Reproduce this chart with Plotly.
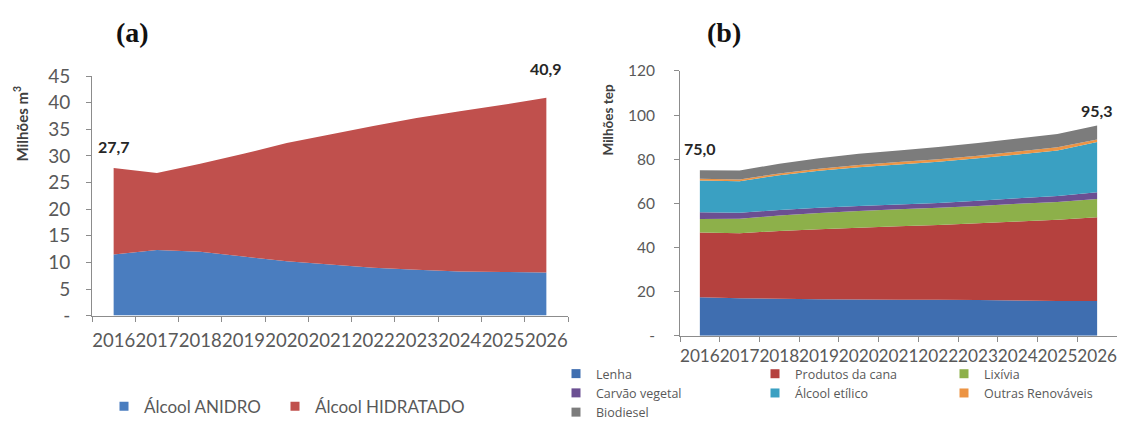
import plotly.graph_objects as go

# Reference frame is 1125x421. The html body keeps its default 8px margin and the
# captured page is about 435px tall, which is then fitted to 421px, so vertical
# positions are given in reference pixels and stretched by S before placement.
REF_W, REF_H, OFF = 1125, 421, 8
PAGE_H = 435
S = PAGE_H / REF_H
W, H = REF_W - 2 * OFF, PAGE_H - 2 * OFF

years = ['2016', '2017', '2018', '2019', '2020', '2021', '2022', '2023', '2024', '2025', '2026']

# (a) Etanol - Milhões m3
anidro = [11.5, 12.3, 12.0, 11.1, 10.2, 9.6, 9.0, 8.6, 8.3, 8.2, 8.1]
hidratado = [16.2, 14.5, 16.5, 19.3, 22.2, 24.4, 26.6, 28.5, 30.1, 31.4, 32.8]
a_labels = ['27,7', '40,9']
a_yticks = [0, 5, 10, 15, 20, 25, 30, 35, 40, 45]
a_yticktext = ['-', '5', '10', '15', '20', '25', '30', '35', '40', '45']

# (b) Renováveis - Milhões tep
lenha = [17.5, 17.0, 16.8, 16.6, 16.5, 16.4, 16.3, 16.2, 16.0, 15.8, 15.8]
cana = [29.3, 29.5, 30.7, 31.7, 32.5, 33.2, 33.9, 34.8, 35.8, 36.8, 37.9]
lixivia = [6.1, 6.5, 7.0, 7.4, 7.6, 7.7, 7.8, 7.8, 8.0, 8.0, 8.3]
carvao = [3.1, 2.8, 2.5, 2.3, 2.2, 2.2, 2.2, 2.4, 2.5, 2.8, 3.0]
alcool = [14.4, 14.2, 15.8, 16.8, 17.6, 18.1, 18.7, 19.2, 19.9, 20.6, 22.8]
outras = [0.8, 0.8, 0.8, 0.9, 1.0, 1.1, 1.1, 1.2, 1.3, 1.4, 1.2]
biodiesel = [3.8, 4.1, 4.4, 4.8, 5.1, 5.3, 5.6, 5.8, 5.9, 6.0, 6.3]
b_labels = ['75,0', '95,3']
b_yticks = [0, 20, 40, 60, 80, 100, 120]
b_yticktext = ['-', '20', '40', '60', '80', '100', '120']

a_series = [
    ('Álcool ANIDRO', anidro, '#4a7dbf', 'legend'),
    ('Álcool HIDRATADO', hidratado, '#c0504d', 'legend5'),
]
b_series = [
    ('Lenha', lenha, '#3f6eb0', 'legend2'),
    ('Produtos da cana', cana, '#b5413e', 'legend3'),
    ('Lixívia', lixivia, '#8db04a', 'legend4'),
    ('Carvão vegetal', carvao, '#6b4f92', 'legend2'),
    ('Álcool etílico', alcool, '#3aa0c2', 'legend3'),
    ('Outras Renováveis', outras, '#ec9444', 'legend4'),
    ('Biodiesel', biodiesel, '#7c7c7c', 'legend2'),
]


def px_x(p):
    return (p - OFF) / W


def px_y(p):
    return 1 - (p * S - OFF) / H


fig = go.Figure()

for name, vals, col, lg in a_series:
    fig.add_trace(go.Scatter(
        x=years, y=vals, name=name, stackgroup='a', mode='none',
        fillcolor=col, line=dict(width=0), showlegend=False,
        xaxis='x', yaxis='y', hoverinfo='x+y+name'))
for name, vals, col, lg in a_series:
    fig.add_trace(go.Scatter(
        x=[None], y=[None], name=name, mode='markers',
        marker=dict(symbol='square', size=9, color=col),
        xaxis='x', yaxis='y', legend=lg, showlegend=True))

for name, vals, col, lg in b_series:
    fig.add_trace(go.Scatter(
        x=years, y=vals, name=name, stackgroup='b', mode='none',
        fillcolor=col, line=dict(width=0), showlegend=False,
        xaxis='x2', yaxis='y2', hoverinfo='x+y+name'))
for name, vals, col, lg in b_series:
    fig.add_trace(go.Scatter(
        x=[None], y=[None], name=name, mode='markers',
        marker=dict(symbol='square', size=9, color=col),
        xaxis='x2', yaxis='y2', legend=lg, showlegend=True))

a_tot = [sum(v) for v in zip(anidro, hidratado)]
b_tot = [sum(v) for v in zip(lenha, cana, lixivia, carvao, alcool, outras, biodiesel)]

axis_col = '#8c8c8c'
tick_col = '#595959'
FONT = 'Lato, Open Sans, sans-serif'
LFONT = 'Open Sans, Lato, sans-serif'

common_x = dict(type='category', range=[-0.5, 10.5], tickmode='array', tickvals=years,
                ticktext=years, tickson='boundaries', ticks='outside', ticklen=5,
                tickcolor=axis_col, showline=True, linecolor=axis_col, linewidth=1,
                showgrid=False, zeroline=False, tickangle=0, automargin=False,
                fixedrange=True)
common_y = dict(ticks='outside', ticklen=5, tickcolor=axis_col, showline=True,
                linecolor=axis_col, linewidth=1, showgrid=False, zeroline=False,
                automargin=False, fixedrange=True, tickmode='array')

leg_common = dict(bgcolor='rgba(0,0,0,0)', traceorder='normal', borderwidth=0)
leg_a_font = dict(size=17, color=tick_col, family=FONT)
leg_b_font = dict(size=12.5, color=tick_col, family=LFONT)

fig.update_layout(
    width=W, height=H, template='none',
    margin=dict(l=0, r=0, t=0, b=0),
    paper_bgcolor='white', plot_bgcolor='white',
    font=dict(family=FONT, color=tick_col),
    xaxis=dict(common_x, domain=[px_x(92), px_x(568)], anchor='y', ticklabelstandoff=8,
               tickfont=dict(size=18.5, color=tick_col, family=FONT)),
    yaxis=dict(common_y, domain=[px_y(312), px_y(75)], range=[0, 45], anchor='x',
               tickvals=a_yticks, ticktext=a_yticktext, ticklabelstandoff=12,
               tickfont=dict(size=19, color=tick_col, family=FONT)),
    xaxis2=dict(common_x, domain=[px_x(680), px_x(1117)], anchor='y2', ticklabelstandoff=5,
                tickfont=dict(size=17.2, color=tick_col, family=FONT)),
    yaxis2=dict(common_y, domain=[px_y(332), px_y(70)], range=[0, 120], anchor='x2',
                tickvals=b_yticks, ticktext=b_yticktext, ticklabelstandoff=16,
                tickfont=dict(size=15.5, color=tick_col, family=FONT)),
    legend=dict(leg_common, orientation='h', x=px_x(104), xanchor='left',
                y=px_y(402), yanchor='middle', font=leg_a_font),
    legend5=dict(leg_common, orientation='h', x=px_x(275), xanchor='left',
                 y=px_y(402), yanchor='middle', font=leg_a_font),
    legend2=dict(leg_common, orientation='v', x=px_x(556), xanchor='left',
                 y=px_y(355), yanchor='top', font=leg_b_font),
    legend3=dict(leg_common, orientation='v', x=px_x(755), xanchor='left',
                 y=px_y(355), yanchor='top', font=leg_b_font),
    legend4=dict(leg_common, orientation='v', x=px_x(944), xanchor='left',
                 y=px_y(355), yanchor='top', font=leg_b_font),
    showlegend=True,
)

lab_font = dict(family=FONT, size=16, color='#262626')
annots = [
    dict(x=0, y=a_tot[0], xref='x', yref='y', text='<b>%s</b>' % a_labels[0],
         showarrow=False, xanchor='center', yanchor='bottom', yshift=10 * S, font=lab_font),
    dict(x=len(years) - 1, y=a_tot[-1], xref='x', yref='y', text='<b>%s</b>' % a_labels[1],
         showarrow=False, xanchor='center', yanchor='bottom', yshift=17 * S, font=lab_font),
    dict(x=0, y=b_tot[0], xref='x2', yref='y2', text='<b>%s</b>' % b_labels[0],
         showarrow=False, xanchor='center', yanchor='bottom', yshift=10 * S, font=lab_font),
    dict(x=len(years) - 1, y=b_tot[-1], xref='x2', yref='y2', text='<b>%s</b>' % b_labels[1],
         showarrow=False, xanchor='center', yanchor='bottom', yshift=3 * S, font=lab_font),
    dict(x=px_x(132), y=px_y(32), xref='paper', yref='paper', text='<b>(a)</b>',
         showarrow=False, xanchor='center', yanchor='middle',
         font=dict(family='Liberation Serif, serif', size=28, color='#111111')),
    dict(x=px_x(724), y=px_y(32), xref='paper', yref='paper', text='<b>(b)</b>',
         showarrow=False, xanchor='center', yanchor='middle',
         font=dict(family='Liberation Serif, serif', size=28, color='#111111')),
    dict(x=px_x(21), y=px_y(122), xref='paper', yref='paper', text='<b>Milhões m<sup>3</sup></b>',
         textangle=-90, showarrow=False, xanchor='center', yanchor='middle',
         font=dict(family=FONT, size=15, color='#404040')),
    dict(x=px_x(608), y=px_y(118), xref='paper', yref='paper', text='<b>Milhões tep</b>',
         textangle=-90, showarrow=False, xanchor='center', yanchor='middle',
         font=dict(family=FONT, size=13.5, color='#404040')),
]
fig.update_layout(annotations=annots)

fig.write_html('out.html', config={'displayModeBar': False})
